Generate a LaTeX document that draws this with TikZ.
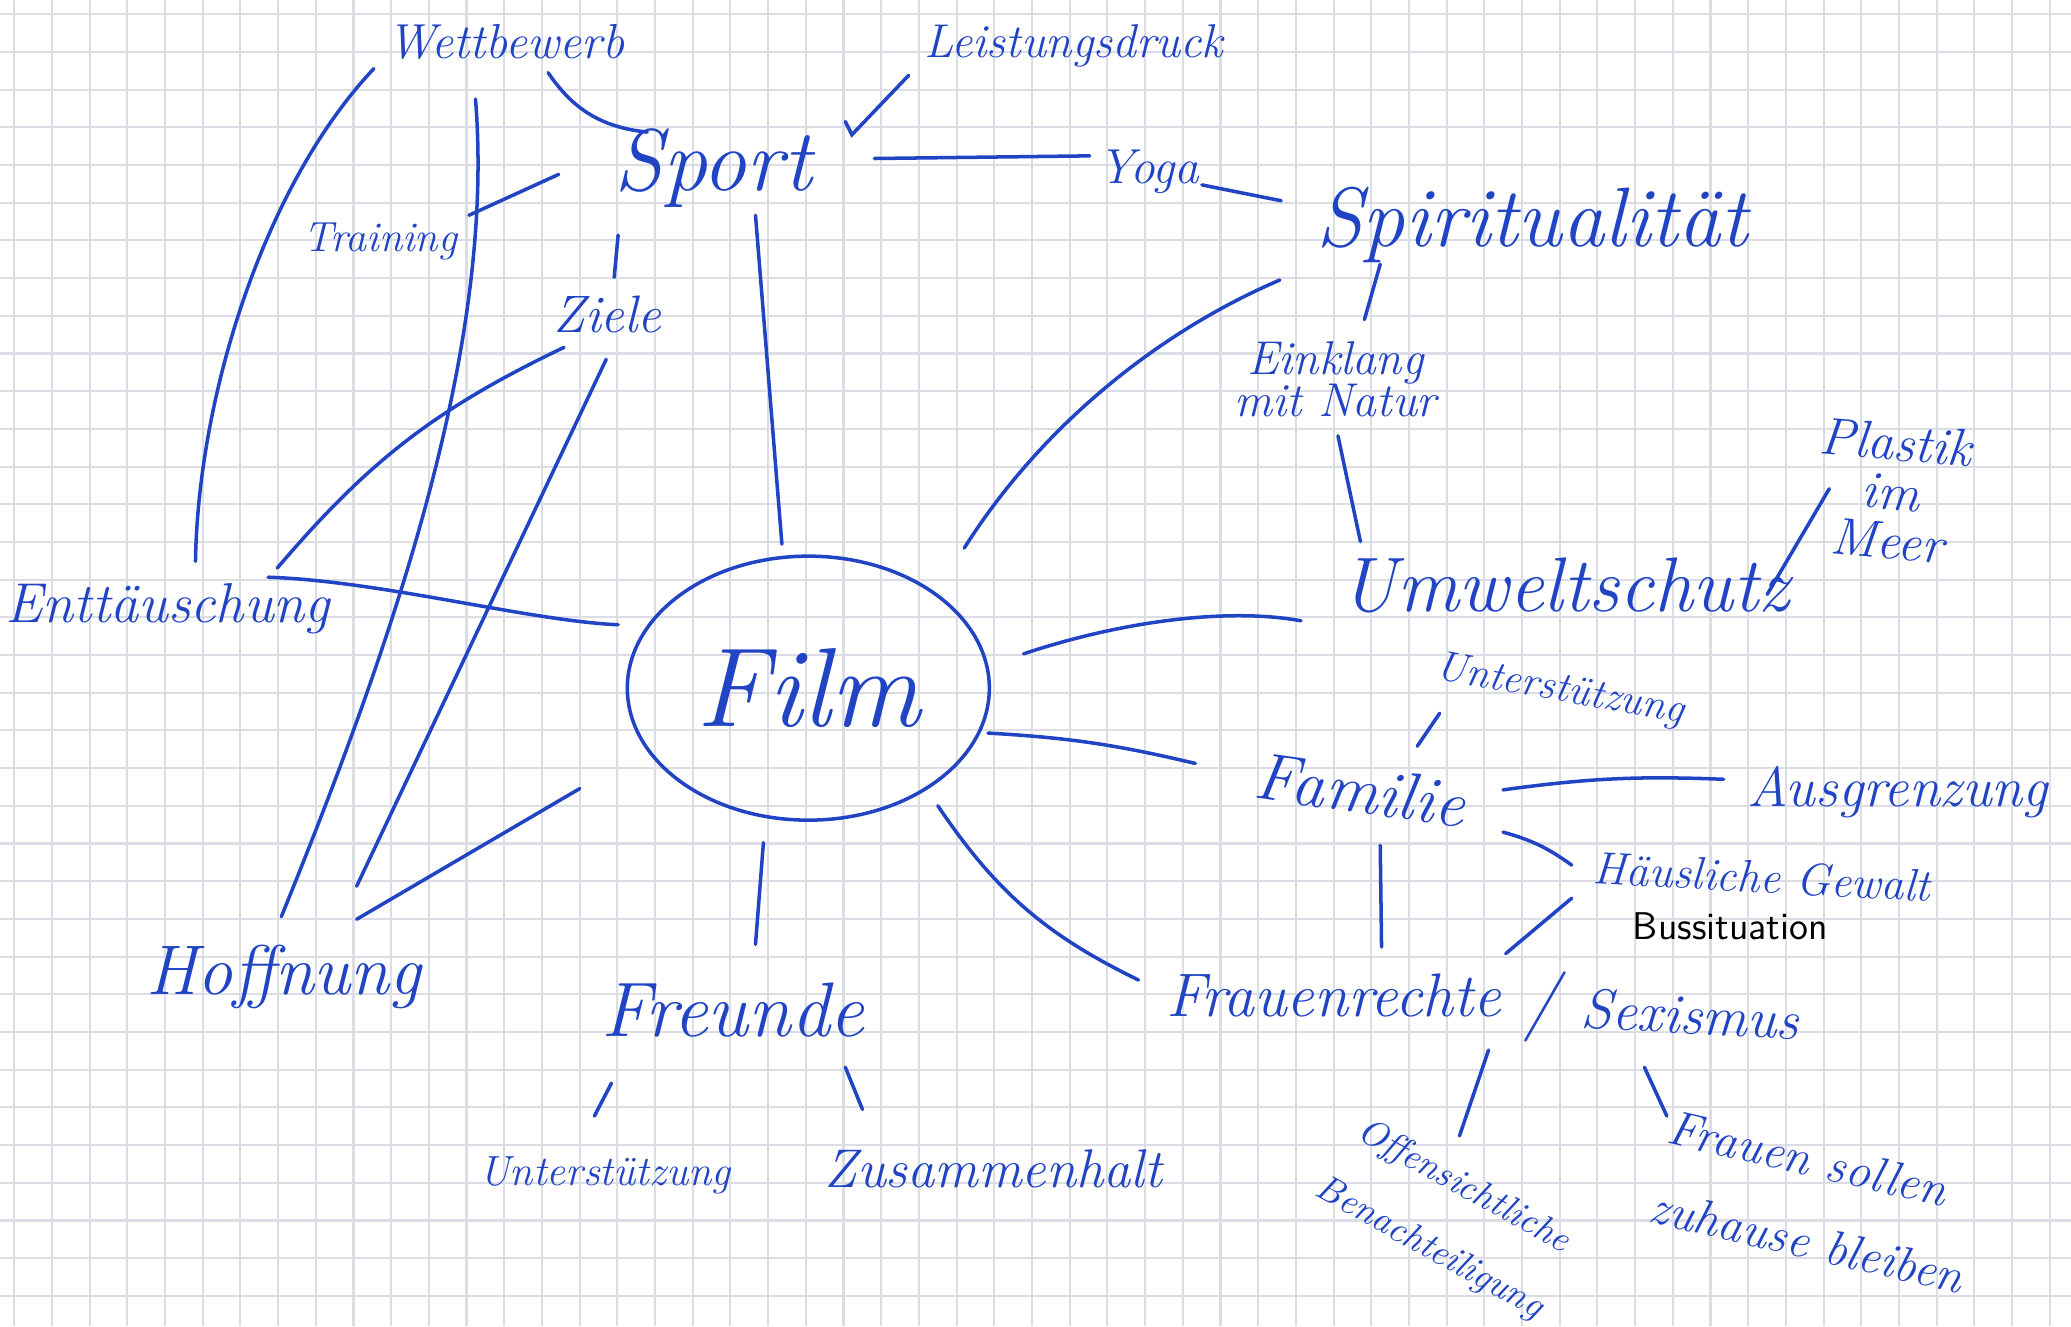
\documentclass[tikz,border=0pt]{standalone}
\usepackage{tikz}
\usetikzlibrary{shapes}
\usetikzlibrary{positioning}
\usetikzlibrary{calc}

\definecolor{ink}{RGB}{32,68,196}
\definecolor{paper}{RGB}{220,221,228}
\newcommand{\hw}[2]{\fontsize{#1}{#2}\selectfont\itshape}

\begin{document}
\begin{tikzpicture}[x=0.13208mm, y=-0.13208mm,
    line/.style={draw=ink, line width=1pt, line cap=round},
    word/.style={text=ink, inner sep=0pt, align=center},
    gridline/.style={draw=paper, line width=0.6pt}]
  % paper
  \fill[white] (0,0) rectangle (1568,1004);
  \useasboundingbox (0,0) rectangle (1568,1004);
  \foreach \i in {0,...,54}
    \draw[gridline] (10.75+28.54*\i,0) -- (10.75+28.54*\i,1004);
  \foreach \j in {0,...,34}
    \draw[gridline] (0,10.75+28.54*\j) -- (1568,10.75+28.54*\j);

  % centre
  \node[word, draw=ink, line width=1pt, ellipse, minimum width=36.2mm,
        minimum height=26.4mm, font=\hw{32}{34}] (film) at (612,521) {Film};

  % words
  \node[word, font=\hw{25}{27}] (sport) at (540,127) {Sport};
  \node[word, font=\hw{14}{16}] (wett) at (383,32) {Wettbewerb};
  \node[word, font=\hw{13.5}{15}] (leist) at (813,35) {Leistungsdruck};
  \node[word, font=\hw{14}{16}] (yoga) at (870,130) {Yoga};
  \node[word, font=\hw{24}{26}] (spirit) at (1160,170) {Spiritualität};
  \node[word, font=\hw{12}{14}] (train) at (288,183) {Training};
  \node[word, font=\hw{15}{17}] (ziele) at (460,238) {Ziele};
  \node[word, font=\hw{13.5}{12}] (einkl) at (1011,287) {Einklang\\mit Natur};
  \node[word, font=\hw{15}{14}, rotate=-5] (plastik) at (1432,372) {Plastik\\im\\Meer};
  \node[word, font=\hw{22}{24}] (umwelt) at (1185,443) {Umweltschutz};
  \node[word, font=\hw{16}{18}] (entt) at (127,461) {Enttäuschung};
  \node[word, font=\hw{12}{14}, rotate=-10] (unter1) at (1181,523) {Unterstützung};
  \node[word, font=\hw{19}{21}, rotate=-8] (familie) at (1030,598) {Familie};
  \node[word, font=\hw{16}{18}] (ausgr) at (1437,600) {Ausgrenzung};
  \node[word, font=\hw{13}{15}, rotate=-3] (haeusl) at (1334,664) {Häusliche Gewalt};
  \node[word, text=black, font=\fontsize{11}{13}\selectfont\sffamily] (buss) at (1310,701) {Bussituation};
  \node[word, font=\hw{20}{22}] (hoff) at (215,740) {Hoffnung};
  \node[word, font=\hw{22}{24}] (freunde) at (555,765) {Freunde};
  \node[word, font=\hw{17.5}{19}] (frauen) at (1010,754) {Frauenrechte};
  \node[word, font=\hw{20}{22}] (slash) at (1167,762) {/};
  \node[word, font=\hw{16}{18}, rotate=-3] (sexismus) at (1280,768) {Sexismus};
  \node[word, font=\hw{12}{14}] (unter2) at (458,890) {Unterstützung};
  \node[word, font=\hw{15.5}{17}] (zusammen) at (752,885) {Zusammenhalt};
  \node[word, font=\hw{10.5}{20}, rotate=-29] (offens) at (1095,922) {Offensichtliche\\Benachteiligung};
  \node[word, font=\hw{14}{23}, rotate=-13, align=left] (fsollen) at (1375,910) {Frauen sollen\\zuhause bleiben};

  % left side
  \draw[line] ($(wett)+(32,23)$) to[bend right=25] ($(sport)+(-50,-27)$);
  \draw[line] ($(wett)+(-100,20)$) .. controls (200,140) and (150,300) .. ($(entt)+(21,-36)$);
  \draw[line] ($(wett)+(-23,43)$) .. controls (375,260) and (300,480) .. ($(hoff)+(-2,-46)$);
  \draw[line] ($(ziele)+(-1,34)$) -- ($(hoff)+(55,-69)$);
  \draw[line] ($(ziele)+(-33,25)$) to[bend right=12] ($(entt)+(83,-31)$);
  \draw[line] ($(sport)+(-72,51)$) -- ($(ziele)+(5,-28)$);
  \draw[line] ($(train)+(67,-20)$) -- ($(sport)+(-117,5)$);
  \draw[line] ($(sport)+(100,-35)$) -- ($(sport)+(105,-25)$) -- ($(leist)+(-125,22)$);
  \draw[line] ($(sport)+(122,-7)$) -- ($(yoga)+(-45,-12)$);
  \draw[line] ($(yoga)+(40,10)$) -- ($(spirit)+(-190,-18)$);
  \draw[line] ($(sport)+(32,36)$) -- ($(film)+(-20,-109)$);
  \draw[line] ($(entt)+(76,-24)$) .. controls (290,440) and (400,470) .. ($(film)+(-144,-48)$);
  \draw[line] ($(film)+(-173,76)$) -- ($(hoff)+(55,-44)$);
  \draw[line] ($(film)+(-34,117)$) -- ($(freunde)+(17,-50)$);
  \draw[line] ($(freunde)+(-92,55)$) -- ($(unter2)+(-8,-45)$);
  \draw[line] ($(freunde)+(85,43)$) -- ($(zusammen)+(-99,-45)$);

  % right side
  \draw[line] ($(spirit)+(-191,42)$) .. controls (880,250) and (790,320) .. ($(film)+(118,-106)$);
  \draw[line] ($(spirit)+(-115,30)$) -- ($(einkl)+(22,-45)$);
  \draw[line] ($(einkl)+(2,43)$) -- ($(umwelt)+(-155,-33)$);
  \draw[line] ($(umwelt)+(153,7)$) -- ($(plastik)+(-47,-2)$);
  \draw[line] ($(film)+(163,-26)$) .. controls (850,470) and (930,460) .. ($(umwelt)+(-200,27)$);
  \draw[line] ($(film)+(136,34)$) to[bend left=5] ($(familie)+(-125,-20)$);
  \draw[line] ($(film)+(98,89)$) to[bend right=15] ($(frauen)+(-148,-12)$);
  \draw[line] ($(familie)+(43,-33)$) -- ($(unter1)+(-91,17)$);
  \draw[line] ($(familie)+(108,0)$) to[bend left=5] ($(ausgr)+(-132,-10)$);
  \draw[line] ($(familie)+(108,32)$) to[bend left=10] ($(haeusl)+(-144,-9)$);
  \draw[line] ($(familie)+(15,42)$) -- ($(frauen)+(36,-37)$);
  \draw[line] ($(haeusl)+(-144,16)$) -- ($(frauen)+(130,-32)$);
  \draw[line] ($(frauen)+(117,41)$) -- ($(offens)+(10,-62)$);
  \draw[line] ($(sexismus)+(-35,40)$) -- ($(fsollen)+(-113,-65)$);
\end{tikzpicture}
\end{document}
